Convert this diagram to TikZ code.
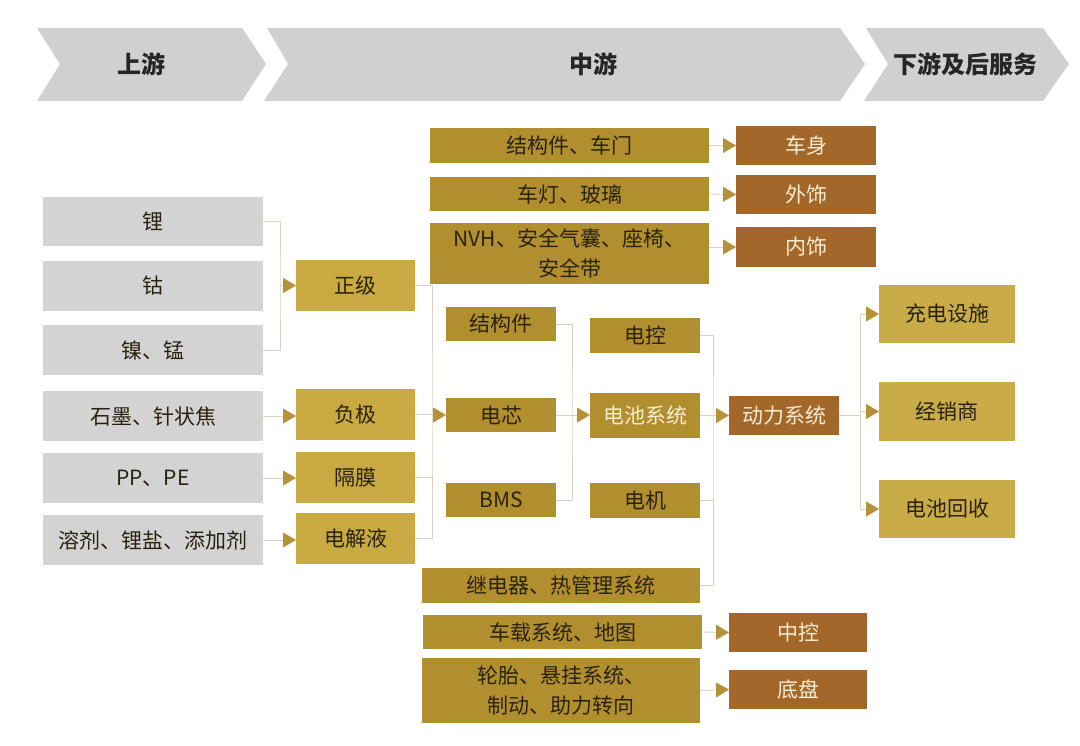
\documentclass[tikz,border=0pt]{standalone}
\usepackage{fontspec}
\setmainfont{Noto Sans CJK SC}
\usetikzlibrary{arrows.meta}
\definecolor{hdr}{HTML}{D1D0D0}
\definecolor{lgray}{HTML}{D3D3D3}
\definecolor{goldA}{HTML}{C8A942}
\definecolor{goldB}{HTML}{B18F2F}
\definecolor{goldC}{HTML}{C9AB47}
\definecolor{brownA}{HTML}{A3672A}
\definecolor{tri}{HTML}{B4923A}
\definecolor{lne}{HTML}{D8D2C2}
\definecolor{dtext}{HTML}{2A2210}
\definecolor{ctext}{HTML}{F8ECD2}
\tikzset{
  bx/.style={anchor=north west, inner sep=0pt, outer sep=0pt, align=center,
    font=\fontsize{21}{30}\selectfont, text=dtext},
  grb/.style={bx, fill=lgray},
  gab/.style={bx, fill=goldA},
  gbb/.style={bx, fill=goldB},
  gcb/.style={bx, fill=goldC},
  brb/.style={bx, fill=brownA, text=ctext},
  conn/.style={draw=lne, line width=0.9pt},
  arr/.style={conn, -{Triangle[length=13pt,width=15pt,color=tri,fill=tri]}},
  chev/.style={fill=hdr, draw=none},
  htext/.style={font=\fontsize{24}{28}\selectfont\bfseries, text=black!85}
}
\begin{document}
\begin{tikzpicture}[x=1pt,y=-1pt]
\useasboundingbox (0,0) rectangle (1080,746);
% header chevrons
\fill[chev] (37,28) -- (242,28) -- (266,64) -- (242,101) -- (37,101) -- (60,64) -- cycle;
\fill[chev] (267,28) -- (840,28) -- (865,64) -- (840,101) -- (264,101) -- (288,64) -- cycle;
\fill[chev] (866,28) -- (1043,28) -- (1069,64) -- (1043,101) -- (864,101) -- (888,64) -- cycle;
\node[htext] (h1) at (141,64) {上游};
\node[htext] (h2) at (593,64) {中游};
\node[htext] (h3) at (965,64) {下游及后服务};

% left gray column
\node[grb, minimum width=220pt, minimum height=49pt] (li) at (43,197) {锂};
\node[grb, minimum width=220pt, minimum height=50pt] (gu) at (43,261) {钴};
\node[grb, minimum width=220pt, minimum height=50pt] (nm) at (43,325) {镍、锰};
\node[grb, minimum width=220pt, minimum height=50pt] (sm) at (43,391) {石墨、针状焦};
\node[grb, minimum width=220pt, minimum height=50pt] (pp) at (43,453) {PP、PE};
\node[grb, minimum width=220pt, minimum height=50pt] (rj) at (43,515) {溶剂、锂盐、添加剂};

% materials
\node[gab, minimum width=119pt, minimum height=51pt] (zj) at (296,260) {正级};
\node[gab, minimum width=119pt, minimum height=51pt] (fj) at (296,389) {负极};
\node[gab, minimum width=119pt, minimum height=51pt] (gm) at (296,452) {隔膜};
\node[gab, minimum width=119pt, minimum height=51pt] (djy) at (296,513) {电解液};

% battery parts
\node[gbb, minimum width=110pt, minimum height=34pt] (jgj) at (446,307) {结构件};
\node[gbb, minimum width=110pt, minimum height=34pt] (dx) at (446,398) {电芯};
\node[gbb, minimum width=110pt, minimum height=34pt] (bms) at (446,483) {BMS};
\node[gbb, minimum width=110pt, minimum height=35pt] (dk) at (590,318) {电控};
\node[gbb, minimum width=110pt, minimum height=45pt, text=ctext] (dcxt) at (590,393) {电池系统};
\node[gbb, minimum width=110pt, minimum height=35pt] (dj) at (590,483) {电机};
\node[gbb, minimum width=278pt, minimum height=35pt] (jdq) at (422,568) {继电器、热管理系统};
\node[brb, minimum width=110pt, minimum height=39pt] (dlxt) at (729,396) {动力系统};

% downstream
\node[gcb, minimum width=136pt, minimum height=58pt] (cdss) at (879,285) {充电设施};
\node[gcb, minimum width=136pt, minimum height=59pt] (jxs) at (879,382) {经销商};
\node[gcb, minimum width=136pt, minimum height=58pt] (dchs) at (879,480) {电池回收};

% body parts (top)
\node[gbb, minimum width=279pt, minimum height=35pt] (jgcm) at (430,128) {结构件、车门};
\node[gbb, minimum width=279pt, minimum height=34pt] (cdbl) at (430,177) {车灯、玻璃};
\node[gbb, minimum width=279pt, minimum height=61pt] (nvh) at (430,223) {NVH、安全气囊、座椅、\\安全带};
\node[brb, minimum width=140pt, minimum height=39pt] (cs) at (736,126) {车身};
\node[brb, minimum width=140pt, minimum height=39pt] (wsh) at (736,175) {外饰};
\node[brb, minimum width=140pt, minimum height=40pt] (nsh) at (736,227) {内饰};

% bottom
\node[gbb, minimum width=279pt, minimum height=34pt] (czxt) at (423,615) {车载系统、地图};
\node[gbb, minimum width=278pt, minimum height=65pt] (lt) at (422,658) {轮胎、悬挂系统、\\制动、助力转向};
\node[brb, minimum width=138pt, minimum height=39pt] (zk) at (729,613) {中控};
\node[brb, minimum width=138pt, minimum height=39pt] (dp) at (729,670) {底盘};

% connectors: raw materials -> cathode
\coordinate (b1) at (280,285.5);
\draw[conn] (li.east) -| (b1) |- (nm.east);
\draw[arr] (b1) -- (zj.west);
\draw[arr] (sm.east) -- (sm.east -| fj.west);
\draw[arr] (pp.east) -- (pp.east -| gm.west);
\draw[arr] (rj.east) -- (rj.east -| djy.west);

% materials -> cell
\coordinate (b2) at (432,415);
\draw[conn] (zj.east) -| (b2) |- (djy.east);
\draw[conn] (fj.east) -- (fj.east -| b2);
\draw[conn] (gm.east) -- (gm.east -| b2);
\draw[arr] (b2) -- (dx.west);

% cell parts -> battery system
\coordinate (b3) at (572,415);
\draw[conn] (jgj.east) -| (b3) |- (bms.east);
\draw[conn] (dx.east) -- (b3);
\draw[arr] (b3) -- (b3 -| dcxt.west);

% -> power system
\coordinate (b4) at (713,415.5);
\draw[conn] (dk.east) -| (b4) |- (jdq.east);
\draw[conn] (dcxt.east) -- (dcxt.east -| b4);
\draw[conn] (dj.east) -- (dj.east -| b4);
\draw[arr] (b4) -- (dlxt.west);

% power system -> downstream
\coordinate (b5) at (860,415.5);
\draw[conn] (dlxt.east) -- (b5);
\draw[conn] (cdss.west -| b5) -- (dchs.west -| b5);
\draw[arr] (cdss.west -| b5) -- (cdss.west);
\draw[arr] (jxs.west -| b5) -- (jxs.west);
\draw[arr] (dchs.west -| b5) -- (dchs.west);

% body arrows
\draw[arr] (jgcm.east) -- (cs.west);
\draw[arr] (cdbl.east) -- (wsh.west);
\draw[arr] (nvh.east |- nsh.west) -- (nsh.west);
\draw[arr] (czxt.east) -- (zk.west);
\draw[arr] (lt.east) -- (dp.west);
\end{tikzpicture}
\end{document}
